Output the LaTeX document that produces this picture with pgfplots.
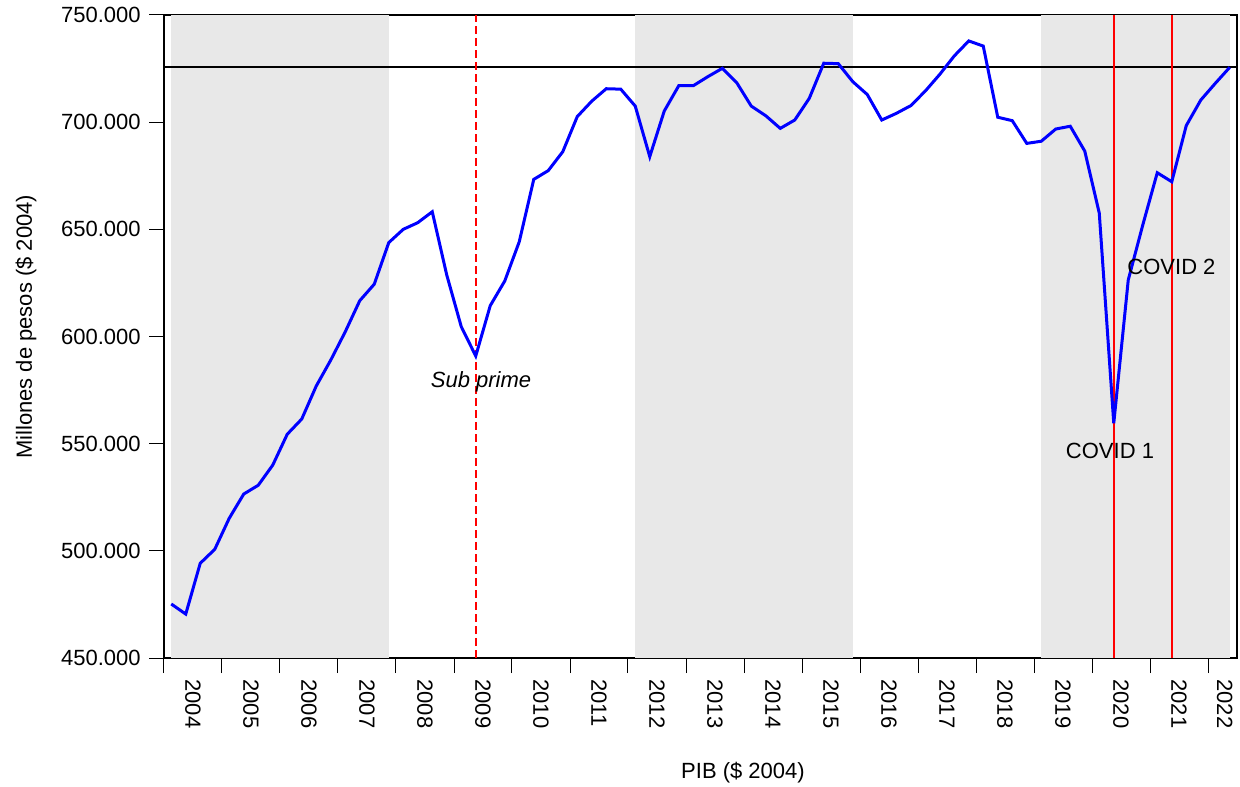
\documentclass[border=0pt]{standalone}
\usepackage{pgfplots}
\pgfplotsset{compat=1.18}
\usepackage{fontspec}
\setmainfont{Liberation Sans}
\usetikzlibrary{calc}
\definecolor{shade}{RGB}{232,232,232}

\pgfplotstableread{
x y
2004.125 475.2
2004.375 470.5
2004.625 494.2
2004.875 500.7
2005.125 515.2
2005.375 526.5
2005.625 530.6
2005.875 540.0
2006.125 554.4
2006.375 561.5
2006.625 576.9
2006.875 589.0
2007.125 602.2
2007.375 616.7
2007.625 624.4
2007.875 643.8
2008.125 650.0
2008.375 653.1
2008.625 658.2
2008.875 628.7
2009.125 604.6
2009.375 590.9
2009.625 614.4
2009.875 625.9
2010.125 644.2
2010.375 673.3
2010.625 677.4
2010.875 686.2
2011.125 702.6
2011.375 709.8
2011.625 715.6
2011.875 715.4
2012.125 707.5
2012.375 683.9
2012.625 705.2
2012.875 717.0
2013.125 717.0
2013.375 721.2
2013.625 725.1
2013.875 718.4
2014.125 707.5
2014.375 703.0
2014.625 697.1
2014.875 701.0
2015.125 711.1
2015.375 727.5
2015.625 727.3
2015.875 718.9
2016.125 712.9
2016.375 701.0
2016.625 704.1
2016.875 707.7
2017.125 714.5
2017.375 722.3
2017.625 730.9
2017.875 737.9
2018.125 735.5
2018.375 702.3
2018.625 700.7
2018.875 690.1
2019.125 691.1
2019.375 696.8
2019.625 698.1
2019.875 686.5
2020.125 657.6
2020.375 559.5
2020.625 626.4
2020.875 652.0
2021.125 676.4
2021.375 672.2
2021.625 698.4
2021.875 710.3
2022.125 718.1
2022.375 725.6
}\pib

\begin{document}
\begin{tikzpicture}
\begin{axis}[
  scale only axis,
  width=536.5pt, height=321.5pt,
  xmin=2004, xmax=2022.5,
  ymin=450, ymax=750,
  clip=false,
  axis line style={black, line width=0.8pt},
  tick style={black, line width=0.5pt},
  tick align=outside,
  xtick pos=bottom, ytick pos=left,
  major tick length=7.5pt,
  minor tick length=4.5pt,
  xtick={2004,2005,...,2022},
  minor x tick num=3,
  xticklabels={2004,2005,2006,2007,2008,2009,2010,2011,2012,2013,2014,2015,2016,2017,2018,2019,2020,2021,\raisebox{-10pt}[0pt][0pt]{2022}},
  xticklabel style={font=\fontsize{11}{13}\selectfont, xshift=14.5pt, yshift=-3pt, rotate=-90, anchor=west, inner sep=0pt},
  ytick={450,500,...,750},
  yticklabels={450.000,500.000,550.000,600.000,650.000,700.000,750.000},
  yticklabel style={font=\fontsize{11}{13}\selectfont, anchor=east, inner sep=0pt, xshift=-4pt},
  xlabel={PIB (\$ 2004)},
  ylabel={Millones de pesos (\$ 2004)},
  xlabel style={font=\fontsize{11}{13}\selectfont, at={(axis description cs:0.5396,-0.17885)}, anchor=center},
  ylabel style={font=\fontsize{11}{13}\selectfont, at={(axis description cs:-0.1286,0.515)}, anchor=center},
]
% shaded periods
\addplot[draw=none, fill=shade] coordinates {(2004.125,450) (2007.875,450) (2007.875,750) (2004.125,750)} -- cycle;
\addplot[draw=none, fill=shade] coordinates {(2012.125,450) (2015.875,450) (2015.875,750) (2012.125,750)} -- cycle;
\addplot[draw=none, fill=shade] coordinates {(2019.125,450) (2022.375,450) (2022.375,750) (2019.125,750)} -- cycle;
% reference level
\addplot[black, line width=1pt] coordinates {(2004,725.6) (2022.5,725.6)};
% event lines
\addplot[red, line width=1.1pt, dash pattern=on 4pt off 2pt] coordinates {(2009.375,450) (2009.375,750)};
\addplot[red, line width=1.1pt] coordinates {(2020.375,450) (2020.375,750)};
\addplot[red, line width=1.1pt] coordinates {(2021.375,450) (2021.375,750)};
% series
\addplot[blue, line width=1.5pt, line join=miter] table[x=x, y=y] {\pib};
% annotations
\node[font=\fontsize{11}{13}\selectfont\itshape] at (axis cs:2009.466,578.8) {Sub prime};
\node[font=\fontsize{11}{13}\selectfont] at (axis cs:2020.31,546.6) {COVID 1};
\node[font=\fontsize{11}{13}\selectfont] at (axis cs:2021.37,632.4) {COVID 2};
\end{axis}
\pgfresetboundingbox
\path ($(current axis.south west)+(-82pt,-64pt)$) rectangle ($(current axis.north east)+(1.5pt,7.5pt)$);
\end{tikzpicture}
\end{document}
